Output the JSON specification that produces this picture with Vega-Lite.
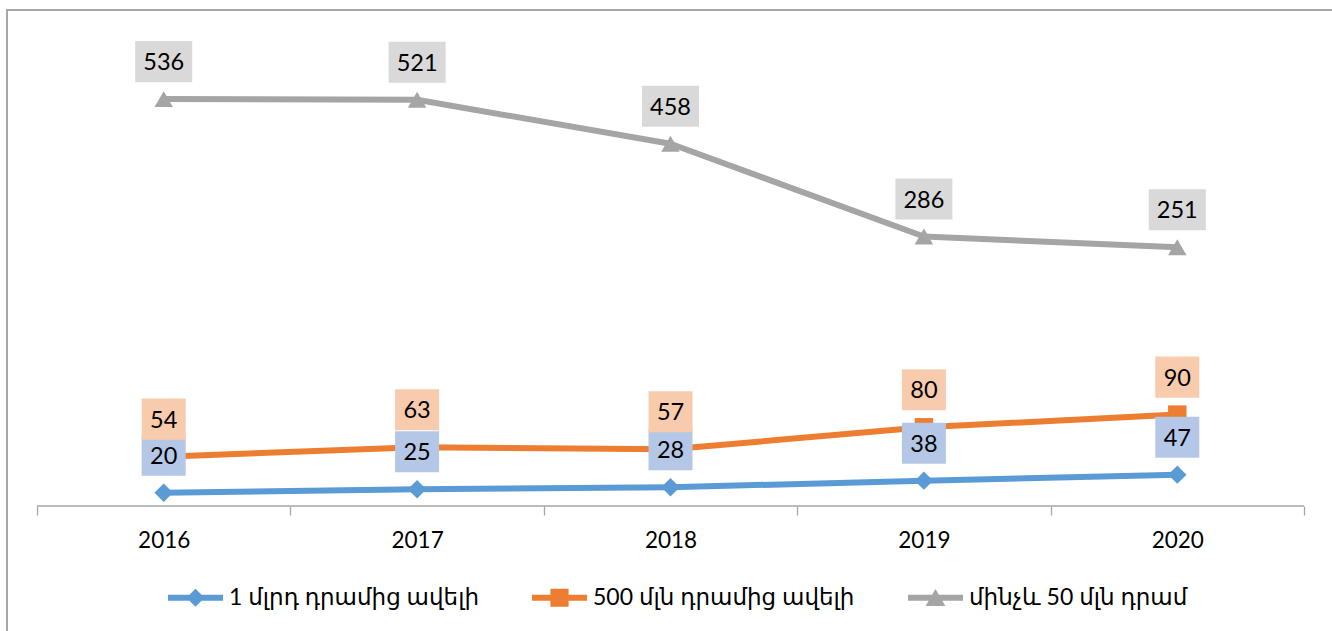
{
  "$schema": "https://vega.github.io/schema/vega-lite/v6.json",
  "width": 1327,
  "height": 625,
  "autosize": {"type": "none"},
  "padding": {"left": 7, "top": 10, "right": 0, "bottom": 0},
  "background": "white",
  "config": {"view": {"stroke": "#A6A6A6", "strokeWidth": 2}, "font": "Lato"},
  "data": {
    "values": [
      {"year": "2016", "series": "1 մլրդ դրամից ավելի", "value": 20},
      {"year": "2017", "series": "1 մլրդ դրամից ավելի", "value": 25},
      {"year": "2018", "series": "1 մլրդ դրամից ավելի", "value": 28},
      {"year": "2019", "series": "1 մլրդ դրամից ավելի", "value": 38},
      {"year": "2020", "series": "1 մլրդ դրամից ավելի", "value": 47},
      {"year": "2016", "series": "500 մլն դրամից ավելի", "value": 54},
      {"year": "2017", "series": "500 մլն դրամից ավելի", "value": 63},
      {"year": "2018", "series": "500 մլն դրամից ավելի", "value": 57},
      {"year": "2019", "series": "500 մլն դրամից ավելի", "value": 80},
      {"year": "2020", "series": "500 մլն դրամից ավելի", "value": 90},
      {"year": "2016", "series": "մինչև 50 մլն դրամ", "value": 536},
      {"year": "2017", "series": "մինչև 50 մլն դրամ", "value": 521},
      {"year": "2018", "series": "մինչև 50 մլն դրամ", "value": 458},
      {"year": "2019", "series": "մինչև 50 մլն դրամ", "value": 286},
      {"year": "2020", "series": "մինչև 50 մլն դրամ", "value": 251}
    ]
  },
  "transform": [
    {"stack": "value", "groupby": ["year"], "sort": [{"field": "series", "order": "ascending"}], "as": ["v0", "v1"]}
  ],
  "encoding": {
    "x": {
      "field": "year",
      "type": "ordinal",
      "scale": {"type": "band", "paddingInner": 0, "paddingOuter": 0.1184},
      "axis": {
        "orient": "bottom",
        "offset": -129,
        "domain": false,
        "grid": false,
        "tickBand": "extent",
        "tickSize": 9,
        "tickColor": "#A6A6A6",
        "tickWidth": 1.3,
        "labelFont": "Lato",
        "labelFontSize": 22.5,
        "labelColor": "#000000",
        "labelPadding": 14,
        "labelAngle": 0,
        "title": null
      }
    },
    "y": {
      "field": "v1",
      "type": "quantitative",
      "scale": {"domain": [-193.4, 743.6], "nice": false, "zero": false},
      "axis": null
    }
  },
  "layer": [
    {
      "transform": [{"filter": "datum.series === '1 մլրդ դրամից ավելի'"}],
      "mark": {"type": "rect", "fill": null, "stroke": "#A6A6A6", "strokeWidth": 1.3},
      "encoding": {"y": {"datum": 0}, "y2": {"datum": 0}}
    },
    {
      "mark": {"type": "line", "strokeWidth": 6, "strokeJoin": "round", "strokeCap": "round"},
      "encoding": {
        "color": {
          "field": "series",
          "type": "nominal",
          "scale": {
            "domain": ["1 մլրդ դրամից ավելի", "500 մլն դրամից ավելի", "մինչև 50 մլն դրամ"],
            "range": ["#5B9BD5", "#ED7D31", "#A5A5A5"]
          },
          "legend": {
            "orient": "none",
            "legendX": 161,
            "legendY": 560,
            "direction": "horizontal",
            "title": null,
            "labelFont": "Lato, DejaVu Sans",
            "labelFontSize": 23,
            "labelColor": "#000000",
            "labelOffset": 6,
            "labelLimit": 500,
            "columnPadding": 53,
            "symbolSize": 3025,
            "symbolType": "M-1,-0.11H1V0.11H-1Z",
            "symbolStrokeWidth": 0,
            "encode": {
              "symbols": {
                "update": {
                  "shape": {"signal": "datum.value === '1 մլրդ դրամից ավելի' ? 'M-1,-0.11H1V0.11H-1Z M-0.33,0L0,-0.33L0.33,0L0,0.33Z' : (datum.value === '500 մլն դրամից ավելի' ? 'M-1,-0.11H1V0.11H-1Z M-0.33,-0.33H0.33V0.33H-0.33Z' : 'M-1,-0.11H1V0.11H-1Z M0,-0.32L0.36,0.3H-0.36Z')"},
                  "fill": {"scale": "color", "field": "value"},
                  "strokeWidth": {"value": 0},
                  "opacity": {"value": 1}
                }
              }
            }
          }
        }
      }
    },
    {
      "mark": {"type": "point", "filled": true, "opacity": 1, "size": 340, "strokeWidth": 0},
      "encoding": {
        "color": {"field": "series", "type": "nominal"},
        "shape": {
          "field": "series",
          "type": "nominal",
          "scale": {
            "domain": ["1 մլրդ դրամից ավելի", "500 մլն դրամից ավելի", "մինչև 50 մլն դրամ"],
            "range": ["diamond", "square", "triangle-up"]
          },
          "legend": null
        }
      }
    },
    {
      "transform": [{"filter": "datum.value < 100"}],
      "mark": {"type": "point", "filled": true, "opacity": 1, "size": 3249, "strokeWidth": 0, "yOffset": -37.5, "shape": "M-0.772,-0.72H0.772V0.72H-0.772Z"},
      "encoding": {
        "fill": {
          "field": "series",
          "type": "nominal",
          "scale": {
            "domain": ["1 մլրդ դրամից ավելի", "500 մլն դրամից ավելի", "մինչև 50 մլն դրամ"],
            "range": ["#B4C7E7", "#F8CBAD", "#D9D9D9"]
          },
          "legend": null
        }
      }
    },
    {
      "transform": [{"filter": "datum.value >= 100"}],
      "mark": {"type": "point", "filled": true, "opacity": 1, "size": 3249, "strokeWidth": 0, "yOffset": -37.5, "shape": "M-1,-0.72H1V0.72H-1Z"},
      "encoding": {
        "fill": {"field": "series", "type": "nominal", "legend": null}
      }
    },
    {
      "mark": {"type": "text", "font": "Lato", "fontSize": 23.5, "color": "#000000", "align": "center", "baseline": "middle", "yOffset": -36},
      "encoding": {"text": {"field": "value", "type": "quantitative"}}
    }
  ],
  "resolve": {"scale": {"shape": "independent"}}
}
